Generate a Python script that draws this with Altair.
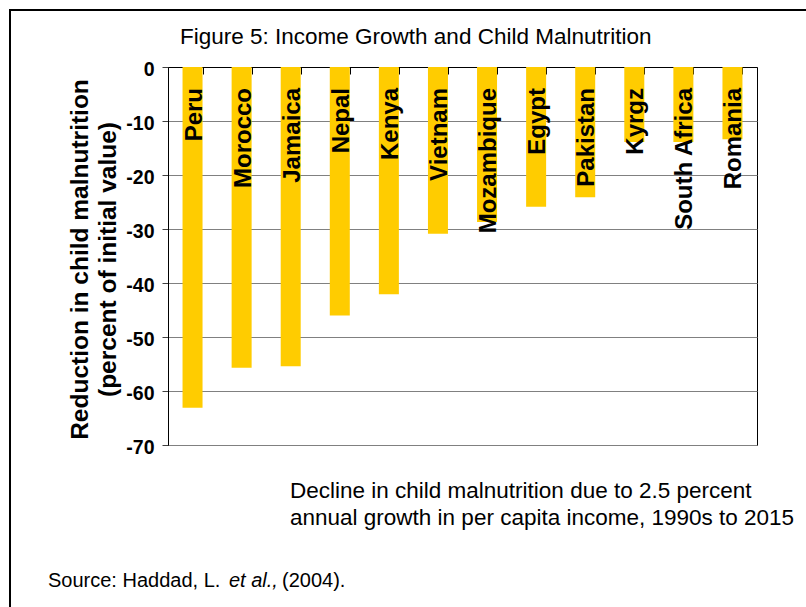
import altair as alt
import pandas as pd

# Decline in child malnutrition (% of initial value) per country
countries = ["Peru", "Morocco", "Jamaica", "Nepal", "Kenya", "Vietnam",
             "Mozambique", "Egypt", "Pakistan", "Kyrgz", "South Africa", "Romania"]
reduction = [-63.1, -55.7, -55.4, -46.0, -42.1, -30.9,
             -28.7, -25.9, -24.1, -13.9, -13.9, -13.4]
y_ticks = [0, -10, -20, -30, -40, -50, -60, -70]

title_text = "Figure 5: Income Growth and Child Malnutrition"
note_lines = ["Decline in child malnutrition due to 2.5 percent",
              "annual growth in per capita income, 1990s to 2015"]
source_parts = ["Source: Haddad, L.", "et al.,", "(2004)."]

df = pd.DataFrame({"country": countries, "reduction": reduction})
one = pd.DataFrame({"k": [0]})

FONT = "Liberation Sans"
W, H = 589, 378

x_enc = alt.X(
    "country:N", sort=countries,
    scale=alt.Scale(paddingInner=0.5925, paddingOuter=0.29625),
    axis=alt.Axis(orient="bottom", offset=-H, labels=False, title=None,
                  tickBand="extent", tickSize=7, tickColor="black",
                  domainColor="black", grid=False),
)
y_scale = alt.Scale(domain=[-70, 0], nice=False)

bars = alt.Chart(df).mark_bar(color="#FFCC00").encode(
    x=x_enc,
    y=alt.Y("reduction:Q", scale=y_scale,
            axis=alt.Axis(values=y_ticks, grid=True, gridColor="#808080",
                          tickSize=6, tickColor="#404040", domainColor="black",
                          labelPadding=8, labelOffset=2,
                          labelExpr="toString(datum.value)",
                          labelFont=FONT, labelFontSize=19.5, labelFontWeight="bold",
                          labelColor="black",
                          title=["Reduction in child malnutrition",
                                 "(percent of initial value)"],
                          titleFont=FONT, titleFontSize=24.5, titleFontWeight="bold",
                          titleColor="black", titleAngle=270, titleAlign="center",
                          titleBaseline="middle", titleLineHeight=28,
                          titleX=-88, titleY=192)),
    y2=alt.datum(0),
)

labels = alt.Chart(df).mark_text(
    angle=270, align="right", baseline="middle", dx=-21, dy=2,
    font=FONT, fontSize=24, fontWeight="bold", color="black",
).encode(
    x=alt.X("country:N", sort=countries),
    y=alt.datum(0),
    text="country:N",
)

frame = alt.Chart(one).mark_rect(fill="transparent", stroke="black", strokeWidth=2).encode(
    x=alt.value(-158), y=alt.value(-57), x2=alt.value(700), y2=alt.value(600),
)

title = alt.Chart(one).mark_text(
    align="left", baseline="alphabetic", font=FONT, fontSize=22.5, color="black",
    text=title_text,
).encode(x=alt.value(12), y=alt.value(-23))

note = alt.Chart(one).mark_text(
    align="left", baseline="alphabetic", font=FONT, fontSize=22.5, color="black",
    lineHeight=27, text=note_lines,
).encode(x=alt.value(122), y=alt.value(431))

src1 = alt.Chart(one).mark_text(
    align="left", baseline="alphabetic", font=FONT, fontSize=20, color="black",
    text=source_parts[0],
).encode(x=alt.value(-120), y=alt.value(520))
src2 = alt.Chart(one).mark_text(
    align="left", baseline="alphabetic", font=FONT, fontSize=20, color="black",
    fontStyle="italic", text=source_parts[1],
).encode(x=alt.value(61), y=alt.value(520))
src3 = alt.Chart(one).mark_text(
    align="left", baseline="alphabetic", font=FONT, fontSize=20, color="black",
    text=source_parts[2],
).encode(x=alt.value(114), y=alt.value(520))

chart = alt.layer(frame, bars, labels, title, note, src1, src2, src3).properties(
    width=W, height=H,
    autosize=alt.AutoSizeParams(type="none"),
    padding={"left": 168, "top": 67, "right": 49, "bottom": 162},
    background="white",
).configure_view(stroke="black", strokeWidth=1)

chart.save("out.html", embed_options={"renderer": "svg", "actions": False})
